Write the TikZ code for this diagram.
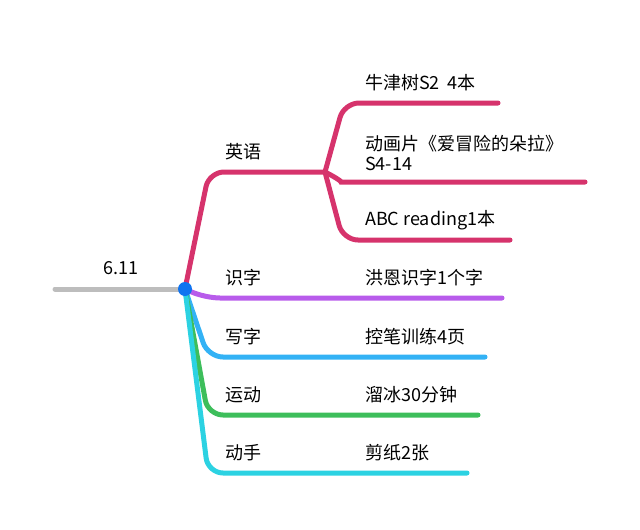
\documentclass[tikz,border=0pt]{standalone}
\usepackage{fontspec}
\newfontfamily\cjk{Noto Sans CJK SC}
\usepackage{xcolor}
\usepackage{tikz}
\usetikzlibrary{
  positioning,
}
\definecolor{rootGray}{HTML}{BDBDBD}
\definecolor{hubBlue}{HTML}{0F74F0}
\definecolor{engPink}{HTML}{D6336C}
\definecolor{readPurple}{HTML}{B85CEB}
\definecolor{writeBlue}{HTML}{33B2F5}
\definecolor{sportGreen}{HTML}{3DBE5B}
\definecolor{craftCyan}{HTML}{2CD2E2}

\begin{document}
\begin{tikzpicture}[x=1pt, y=-1pt,
  branch/.style={line width=5pt, line cap=round, rounded corners=15pt},
  lbl/.style={anchor=west, inner sep=0pt, align=left,
    font=\cjk\fontsize{18}{20}\selectfont},
]
  \useasboundingbox (0,0) rectangle (640,530);
  % root bar
  \coordinate (hub) at (185,289);
  \coordinate (rootend) at (55,289);
  \draw[branch, rootGray] (rootend) -- (hub);
  \node[lbl, anchor=center] (root) at (121,268) {6.11};
  % english with 3 items
  \coordinate (fork) at (325,172);
  \draw[branch, engPink] (hub) -- (209,172) -- (fork);
  \node[lbl] (eng) at (225,152) {英语};
  \foreach \n/\cx/\y/\xend in {1/344/103/498, 3/343/240/510} {
    \coordinate (engend\n) at (\xend,\y);
    \draw[branch, engPink] (fork) -- (\cx,\y) -- (engend\n);
  }
  \coordinate (engend2) at (585,182);
  \draw[branch, engPink] (fork) .. controls (337,178) and (342,182) .. (356,182) -- (engend2);
  \node[lbl] (eng1) at (365,83) {牛津树S2\ \ 4本};
  \node[lbl] (eng2) at (365,152.5) {动画片《爱冒险的朵拉》\\S4-14};
  \node[lbl] (eng3) at (365,220) {ABC reading1本};
  % the other 4 branches
  \foreach \n/\cx/\y/\xend/\col/\lab/\item in {
      1/205/298/502/readPurple/识字/洪恩识字1个字,
      2/208/357/485/writeBlue/写字/控笔训练4页,
      3/208/415/478/sportGreen/运动/溜冰30分钟,
      4/208/473/467/craftCyan/动手/剪纸2张} {
    \coordinate (end\n) at (\xend,\y);
    \draw[branch, \col] (hub) -- (\cx,\y) -- (end\n);
    \node[lbl] (lab\n) at (225,\y-20) {\lab};
    \node[lbl] (item\n) at (365,\y-20) {\item};
  }
  \node[circle, fill=hubBlue, minimum size=14pt, inner sep=0pt] (dot) at (hub) {};
\end{tikzpicture}
\end{document}
